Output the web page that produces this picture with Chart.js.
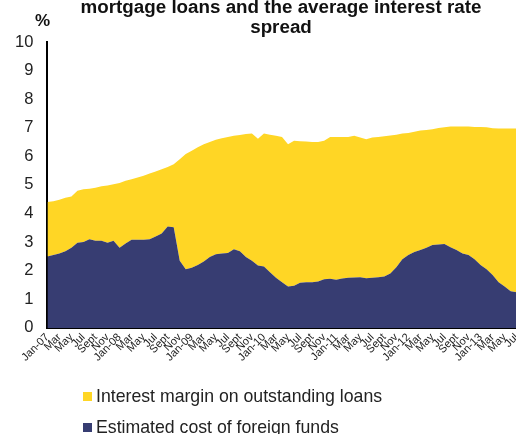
<!DOCTYPE html>
<html>
<head>
<meta charset="utf-8">
<script src="https://cdn.jsdelivr.net/npm/chart.js@4/dist/chart.umd.min.js"></script>
<style>
  html, body { margin: 0; padding: 0; background: #fff; }
  #wrap { position: relative; width: 516px; height: 434px; overflow: hidden; }
  #chart { position: absolute; left: 0; top: 0; }
  .legend-item {
    position: absolute; left: 83px;
    font-family: "Liberation Sans", Arial, sans-serif;
    font-size: 17.7px; color: #222; white-space: nowrap; line-height: 20px;
  }
  .legend-item span {
    display: inline-block; width: 9px; height: 9px; margin-right: 4px; vertical-align: 1px;
  }
</style>
</head>
<body>
<div id="wrap">
  <canvas id="chart" width="529" height="434"></canvas>
  <div class="legend-item" id="leg0" style="top:386px"><span></span></div>
  <div class="legend-item" id="leg1" style="top:417px"><span></span></div>
</div>
<script>
// monthly, Jan-07 .. Jul-13
const monthNames = ['Jan', 'Feb', 'Mar', 'Apr', 'May', 'Jun', 'Jul', 'Aug', 'Sept', 'Oct', 'Nov', 'Dec'];
const years = ['07', '08', '09', '10', '11', '12', '13'];
const months = [];
years.forEach((yr, k) => {
  monthNames.forEach((m, j) => {
    if (k === years.length - 1 && j > 6) return;
    months.push(j === 0 ? m + '-' + yr : m);
  });
});

// Estimated cost of foreign funds (%)
const foreignFundsCost = [
  2.50, 2.55, 2.60, 2.68, 2.80, 2.98, 3.00, 3.10, 3.05, 3.05, 2.98, 3.05,
  2.80, 2.95, 3.08, 3.08, 3.08, 3.10, 3.20, 3.30, 3.55, 3.52, 2.35, 2.05,
  2.10, 2.20, 2.32, 2.48, 2.58, 2.60, 2.62, 2.75, 2.68, 2.48, 2.35, 2.18,
  2.15, 1.95, 1.75, 1.60, 1.45, 1.47, 1.58, 1.60, 1.60, 1.62, 1.70, 1.72,
  1.68, 1.73, 1.75, 1.76, 1.77, 1.74, 1.75, 1.77, 1.80, 1.90, 2.12, 2.40,
  2.55, 2.65, 2.72, 2.80, 2.90, 2.92, 2.93, 2.82, 2.72, 2.60, 2.55, 2.40,
  2.20, 2.05, 1.85, 1.60, 1.45, 1.28, 1.25
];

// Interest margin on outstanding loans (%)
const interestMargin = [
  1.90, 1.88, 1.88, 1.87, 1.80, 1.82, 1.85, 1.77, 1.85, 1.90, 2.00, 1.97,
  2.27, 2.20, 2.12, 2.18, 2.24, 2.30, 2.27, 2.25, 2.08, 2.20, 3.55, 4.03,
  4.10, 4.12, 4.10, 4.02, 4.00, 4.03, 4.06, 3.97, 4.07, 4.30, 4.45, 4.44,
  4.65, 4.81, 4.97, 5.08, 4.97, 5.08, 4.95, 4.92, 4.90, 4.88, 4.85, 4.96,
  5.00, 4.95, 4.93, 4.96, 4.89, 4.86, 4.91, 4.91, 4.90, 4.83, 4.64, 4.40,
  4.27, 4.21, 4.18, 4.12, 4.05, 4.07, 4.09, 4.22, 4.32, 4.44, 4.49, 4.63,
  4.83, 4.97, 5.13, 5.37, 5.52, 5.69, 5.72
];

const yTicks = [0, 1, 2, 3, 4, 5, 6, 7, 8, 9, 10];
const seriesNames = ['Interest margin on outstanding loans', 'Estimated cost of foreign funds'];
const seriesColors = ['#FFD625', '#373D72'];
const titleLines = ['mortgage loans and the average interest rate', 'spread'];
const unitLabel = '%';

const fontFamily = '"Liberation Sans", Arial, sans-serif';

// legend in html, yellow first
['leg0', 'leg1'].forEach((id, i) => {
  const el = document.getElementById(id);
  el.querySelector('span').style.background = seriesColors[i];
  el.appendChild(document.createTextNode(seriesNames[i]));
});

const headerPlugin = {
  id: 'header',
  afterDraw(chart) {
    const ctx = chart.ctx;
    ctx.save();
    ctx.fillStyle = '#111';
    ctx.textAlign = 'center';
    ctx.textBaseline = 'alphabetic';
    ctx.font = 'bold 18.8px ' + fontFamily;
    ctx.fillText(titleLines[0], 281, 13);
    ctx.fillText(titleLines[1], 281, 32.5);
    ctx.font = 'bold 17px ' + fontFamily;
    ctx.fillText(unitLabel, 42.5, 25.5);
    ctx.restore();
  }
};

new Chart(document.getElementById('chart'), {
  type: 'line',
  data: {
    labels: months,
    datasets: [
      {
        label: seriesNames[1],
        data: foreignFundsCost,
        backgroundColor: seriesColors[1],
        borderWidth: 0,
        pointRadius: 0,
        fill: 'origin'
      },
      {
        label: seriesNames[0],
        data: interestMargin,
        backgroundColor: seriesColors[0],
        borderWidth: 0,
        pointRadius: 0,
        fill: '-1'
      }
    ]
  },
  options: {
    responsive: false,
    animation: false,
    layout: { padding: { left: 1, top: 42, right: 0, bottom: 67 } },
    plugins: {
      legend: { display: false },
      title: { display: false },
      tooltip: { enabled: false }
    },
    scales: {
      x: {
        grid: { display: false, drawTicks: false },
        border: { display: true, color: '#000', width: 2 },
        ticks: {
          autoSkip: false,
          minRotation: 45,
          maxRotation: 45,
          padding: 3,
          color: '#222',
          font: { family: fontFamily, size: 11 },
          callback: function (v, i) { return i % 2 === 0 ? this.getLabelForValue(v) : ''; }
        }
      },
      y: {
        stacked: true,
        min: yTicks[0],
        max: yTicks[yTicks.length - 1],
        grid: { display: false, drawTicks: false },
        border: { display: true, color: '#000', width: 2 },
        afterBuildTicks: (axis) => { axis.ticks = yTicks.map(v => ({ value: v })); },
        ticks: {
          padding: 14,
          color: '#222',
          font: { family: fontFamily, size: 16.5 }
        }
      }
    }
  },
  plugins: [headerPlugin]
});
</script>
</body>
</html>
